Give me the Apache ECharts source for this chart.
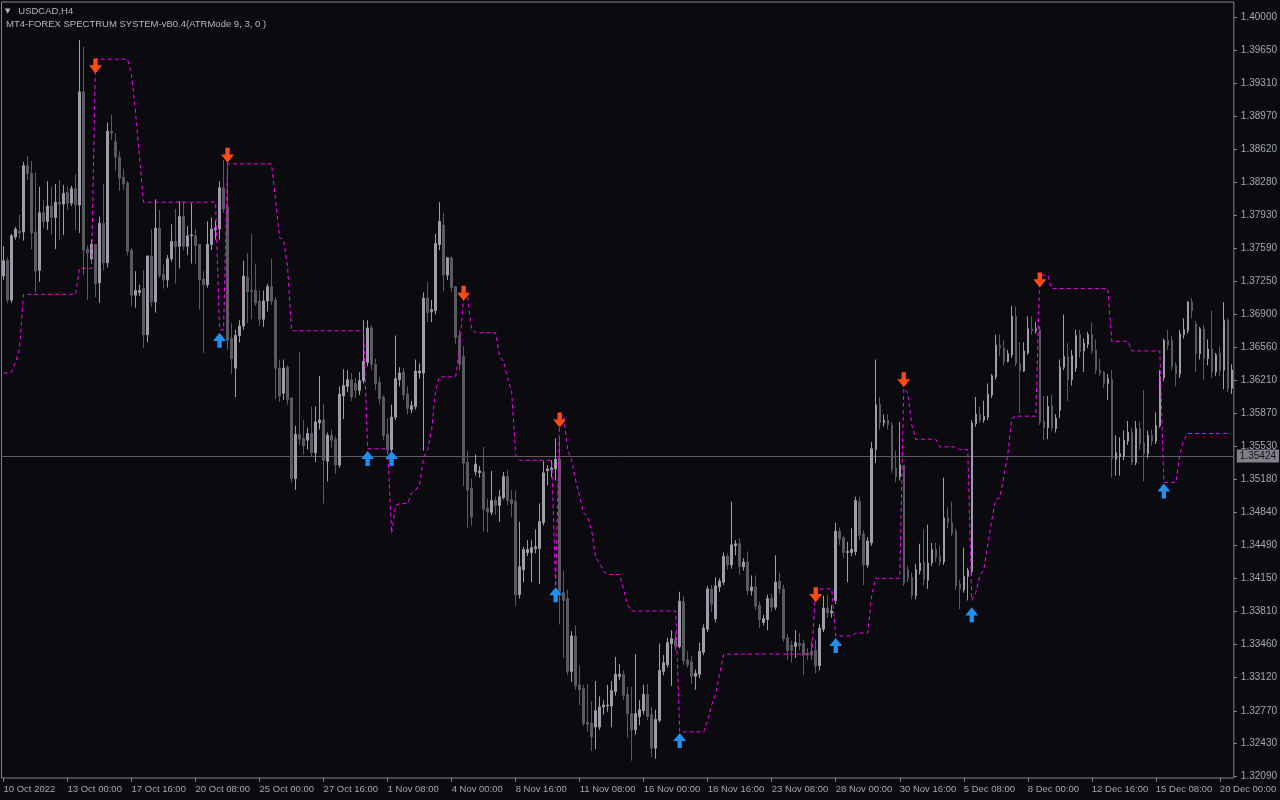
<!DOCTYPE html>
<html>
<head>
<meta charset="utf-8">
<script src="https://cdn.jsdelivr.net/npm/echarts@6/dist/echarts.min.js"></script>
<style>
html,body{margin:0;padding:0;background:#0a0a0f;}
#chart{width:1280px;height:800px;}
</style>
</head>
<body>
<div id="chart"></div>
<script>
const symbolTitle = 'USDCAD,H4';
const indicatorTitle = 'MT4-FOREX SPECTRUM SYSTEM-vB0.4(ATRMode 9, 3, 0 )';
const bidPrice = 1.35424;

const xTickLabels = ['10 Oct 2022','13 Oct 00:00','17 Oct 16:00','20 Oct 08:00','25 Oct 00:00','27 Oct 16:00','1 Nov 08:00','4 Nov 00:00','8 Nov 16:00','11 Nov 08:00','16 Nov 00:00','18 Nov 16:00','23 Nov 08:00','28 Nov 00:00','30 Nov 16:00','5 Dec 08:00','8 Dec 00:00','12 Dec 16:00','15 Dec 08:00','20 Dec 00:00'];
const yTickValues = [1.40000,1.39650,1.39310,1.38970,1.38620,1.38280,1.37930,1.37590,1.37250,1.36900,1.36560,1.36210,1.35870,1.35530,1.35180,1.34840,1.34490,1.34150,1.33810,1.33460,1.33120,1.32770,1.32430,1.32090];

const open = [1.3730,1.3746,1.3705,1.3771,1.3777,1.3776,1.3845,1.3837,1.3776,1.3736,
1.3796,1.3787,1.3803,1.3791,1.3807,1.3805,1.3817,1.3806,1.3821,1.3804,
1.3922,1.3758,1.3748,1.3763,1.3723,1.3785,1.3744,1.3881,1.3870,1.3854,
1.3833,1.3827,1.3757,1.3710,1.3713,1.3717,1.3669,1.3751,1.3703,1.3780,
1.3732,1.3726,1.3748,1.3766,1.3761,1.3792,1.3761,1.3772,1.3772,1.3763,
1.3727,1.3721,1.3763,1.3778,1.3779,1.3822,1.3802,1.3665,1.3634,1.3668,
1.3678,1.3729,1.3715,1.3715,1.3704,1.3685,1.3704,1.3719,1.3705,1.3634,
1.3608,1.3635,1.3603,1.3519,1.3565,1.3561,1.3559,1.3566,1.3546,1.3577,
1.3580,1.3537,1.3564,1.3560,1.3533,1.3605,1.3615,1.3622,1.3618,1.3611,
1.3621,1.3640,1.3676,1.3638,1.3619,1.3604,1.3565,1.3549,1.3583,1.3622,
1.3630,1.3607,1.3591,1.3594,1.3629,1.3629,1.3707,1.3693,1.3694,1.3763,
1.3783,1.3731,1.3749,1.3719,1.3668,1.3646,1.3536,1.3509,1.3526,1.3525,
1.3526,1.3488,1.3484,1.3496,1.3491,1.3499,1.3521,1.3497,1.3495,1.3398,
1.3424,1.3442,1.3442,1.3446,1.3446,1.3473,1.3527,1.3528,1.3529,1.3539,
1.3400,1.3394,1.3318,1.3355,1.3304,1.3300,1.3265,1.3264,1.3260,1.3260,
1.3281,1.3282,1.3282,1.3297,1.3313,1.3315,1.3294,1.3274,1.3257,1.3271,
1.3277,1.3294,1.3273,1.3238,1.3267,1.3318,1.3325,1.3347,1.3352,1.3344,
1.3391,1.3330,1.3328,1.3313,1.3315,1.3338,1.3362,1.3404,1.3373,1.3406,
1.3411,1.3438,1.3429,1.3449,1.3451,1.3427,1.3432,1.3402,1.3406,1.3387,
1.3369,1.3372,1.3394,1.3385,1.3412,1.3404,1.3353,1.3345,1.3344,1.3347,
1.3347,1.3337,1.3339,1.3340,1.3324,1.3362,1.3384,1.3379,1.3392,1.3464,
1.3457,1.3442,1.3442,1.3443,1.3495,1.3461,1.3429,1.3452,1.3549,1.3596,
1.3577,1.3580,1.3575,1.3530,1.3521,1.3533,1.3424,1.3416,1.3397,1.3423,
1.3432,1.3413,1.3431,1.3445,1.3438,1.3432,1.3478,1.3473,1.3464,1.3409,
1.3403,1.3417,1.3422,1.3576,1.3586,1.3580,1.3583,1.3606,1.3625,1.3658,
1.3655,1.3641,1.3648,1.3688,1.3639,1.3631,1.3650,1.3675,1.3673,1.3674,
1.3579,1.3572,1.3595,1.3571,1.3590,1.3635,1.3646,1.3622,1.3634,1.3669,
1.3652,1.3659,1.3669,1.3653,1.3632,1.3630,1.3618,1.3622,1.3539,1.3542,
1.3542,1.3558,1.3567,1.3536,1.3571,1.3556,1.3545,1.3564,1.3558,1.3574,
1.3624,1.3663,1.3663,1.3637,1.3628,1.3669,1.3673,1.3703,1.3680,1.3649,
1.3675,1.3644,1.3654,1.3630,1.3650,1.3632,1.3684,1.3613];

const close = [1.3746,1.3705,1.3772,1.3779,1.3775,1.3845,1.3837,1.3775,1.3735,1.3796,
1.3787,1.3803,1.3791,1.3807,1.3805,1.3816,1.3806,1.3821,1.3804,1.3922,
1.3757,1.3754,1.3763,1.3722,1.3785,1.3744,1.3881,1.3879,1.3854,1.3832,
1.3826,1.3756,1.3710,1.3715,1.3715,1.3669,1.3751,1.3703,1.3780,1.3731,
1.3726,1.3748,1.3766,1.3761,1.3792,1.3761,1.3772,1.3773,1.3762,1.3726,
1.3721,1.3763,1.3779,1.3780,1.3822,1.3800,1.3663,1.3644,1.3668,1.3678,
1.3730,1.3714,1.3714,1.3702,1.3685,1.3704,1.3719,1.3704,1.3634,1.3605,
1.3634,1.3601,1.3519,1.3565,1.3560,1.3553,1.3566,1.3546,1.3578,1.3580,
1.3538,1.3564,1.3559,1.3533,1.3607,1.3616,1.3622,1.3604,1.3611,1.3621,
1.3641,1.3676,1.3638,1.3618,1.3602,1.3564,1.3549,1.3583,1.3623,1.3629,
1.3606,1.3592,1.3595,1.3631,1.3631,1.3707,1.3692,1.3695,1.3764,1.3787,
1.3731,1.3749,1.3718,1.3666,1.3638,1.3535,1.3507,1.3479,1.3534,1.3527,
1.3487,1.3484,1.3496,1.3491,1.3500,1.3521,1.3496,1.3493,1.3398,1.3427,
1.3445,1.3445,1.3447,1.3448,1.3474,1.3525,1.3529,1.3530,1.3539,1.3401,
1.3392,1.3318,1.3355,1.3303,1.3299,1.3264,1.3263,1.3250,1.3277,1.3281,
1.3283,1.3283,1.3298,1.3315,1.3315,1.3293,1.3274,1.3257,1.3274,1.3278,
1.3294,1.3271,1.3238,1.3268,1.3319,1.3327,1.3348,1.3352,1.3345,1.3391,
1.3329,1.3325,1.3313,1.3316,1.3339,1.3363,1.3404,1.3388,1.3407,1.3412,
1.3438,1.3429,1.3450,1.3451,1.3427,1.3432,1.3402,1.3406,1.3386,1.3372,
1.3373,1.3394,1.3385,1.3411,1.3404,1.3352,1.3340,1.3340,1.3348,1.3345,
1.3335,1.3335,1.3335,1.3324,1.3363,1.3384,1.3379,1.3381,1.3464,1.3456,
1.3442,1.3443,1.3445,1.3496,1.3460,1.3429,1.3454,1.3550,1.3596,1.3577,
1.3580,1.3575,1.3528,1.3521,1.3533,1.3410,1.3415,1.3397,1.3424,1.3431,
1.3414,1.3431,1.3445,1.3437,1.3432,1.3478,1.3473,1.3462,1.3407,1.3404,
1.3417,1.3423,1.3577,1.3586,1.3580,1.3584,1.3607,1.3626,1.3658,1.3655,
1.3641,1.3649,1.3688,1.3639,1.3631,1.3652,1.3675,1.3673,1.3675,1.3578,
1.3572,1.3594,1.3572,1.3582,1.3635,1.3646,1.3622,1.3647,1.3668,1.3651,
1.3660,1.3669,1.3652,1.3632,1.3629,1.3618,1.3623,1.3540,1.3546,1.3545,
1.3559,1.3567,1.3536,1.3571,1.3555,1.3545,1.3564,1.3558,1.3574,1.3625,
1.3663,1.3658,1.3636,1.3628,1.3670,1.3674,1.3703,1.3694,1.3649,1.3675,
1.3644,1.3654,1.3630,1.3648,1.3632,1.3684,1.3613,1.3632];

const high = [1.3761,1.3749,1.3774,1.3781,1.3794,1.3849,1.3855,1.3850,1.3838,1.3823,
1.3809,1.3829,1.3823,1.3826,1.3830,1.3825,1.3823,1.3824,1.3836,1.3976,
1.3969,1.3762,1.3768,1.3763,1.3792,1.3826,1.3890,1.3898,1.3879,1.3860,
1.3842,1.3829,1.3759,1.3735,1.3721,1.3736,1.3751,1.3779,1.3810,1.3799,
1.3742,1.3752,1.3784,1.3800,1.3808,1.3808,1.3782,1.3806,1.3779,1.3763,
1.3735,1.3787,1.3791,1.3788,1.3829,1.3851,1.3851,1.3681,1.3674,1.3684,
1.3746,1.3754,1.3774,1.3743,1.3715,1.3715,1.3722,1.3748,1.3708,1.3643,
1.3643,1.3637,1.3603,1.3574,1.3651,1.3580,1.3572,1.3594,1.3594,1.3626,
1.3597,1.3567,1.3570,1.3563,1.3615,1.3633,1.3632,1.3629,1.3624,1.3630,
1.3684,1.3684,1.3679,1.3644,1.3625,1.3606,1.3582,1.3596,1.3668,1.3635,
1.3634,1.3615,1.3600,1.3643,1.3639,1.3713,1.3724,1.3705,1.3774,1.3807,
1.3796,1.3750,1.3750,1.3719,1.3674,1.3657,1.3548,1.3519,1.3544,1.3532,
1.3552,1.3498,1.3527,1.3500,1.3507,1.3526,1.3528,1.3507,1.3507,1.3474,
1.3448,1.3455,1.3455,1.3466,1.3493,1.3537,1.3533,1.3538,1.3561,1.3561,
1.3423,1.3403,1.3360,1.3366,1.3324,1.3304,1.3305,1.3287,1.3308,1.3292,
1.3288,1.3304,1.3308,1.3333,1.3326,1.3319,1.3302,1.3302,1.3336,1.3288,
1.3304,1.3305,1.3281,1.3278,1.3347,1.3335,1.3353,1.3361,1.3358,1.3401,
1.3397,1.3339,1.3334,1.3320,1.3348,1.3367,1.3407,1.3408,1.3416,1.3415,
1.3442,1.3441,1.3495,1.3455,1.3457,1.3436,1.3443,1.3418,1.3418,1.3391,
1.3377,1.3398,1.3399,1.3439,1.3421,1.3408,1.3357,1.3350,1.3361,1.3358,
1.3351,1.3342,1.3349,1.3351,1.3367,1.3397,1.3398,1.3387,1.3473,1.3468,
1.3459,1.3453,1.3467,1.3500,1.3500,1.3465,1.3458,1.3557,1.3643,1.3604,
1.3586,1.3586,1.3578,1.3548,1.3578,1.3533,1.3428,1.3421,1.3430,1.3451,
1.3466,1.3471,1.3452,1.3452,1.3449,1.3520,1.3489,1.3495,1.3467,1.3413,
1.3447,1.3426,1.3580,1.3604,1.3594,1.3600,1.3618,1.3628,1.3669,1.3669,
1.3663,1.3653,1.3699,1.3698,1.3661,1.3661,1.3688,1.3688,1.3682,1.3678,
1.3605,1.3605,1.3606,1.3586,1.3643,1.3690,1.3660,1.3653,1.3674,1.3674,
1.3665,1.3672,1.3682,1.3664,1.3644,1.3631,1.3628,1.3632,1.3564,1.3562,
1.3569,1.3579,1.3572,1.3579,1.3578,1.3611,1.3569,1.3570,1.3588,1.3632,
1.3665,1.3674,1.3668,1.3640,1.3674,1.3686,1.3704,1.3707,1.3683,1.3677,
1.3679,1.3664,1.3694,1.3650,1.3657,1.3703,1.3686,1.3638];

const low = [1.3726,1.3702,1.3702,1.3768,1.3769,1.3767,1.3830,1.3758,1.3713,1.3724,
1.3780,1.3778,1.3773,1.3758,1.3768,1.3773,1.3799,1.3803,1.3778,1.3775,
1.3731,1.3705,1.3745,1.3708,1.3702,1.3736,1.3739,1.3872,1.3840,1.3819,
1.3820,1.3752,1.3699,1.3697,1.3709,1.3655,1.3661,1.3698,1.3692,1.3728,
1.3717,1.3718,1.3745,1.3722,1.3738,1.3757,1.3752,1.3743,1.3743,1.3695,
1.3650,1.3718,1.3757,1.3768,1.3768,1.3796,1.3653,1.3628,1.3604,1.3661,
1.3674,1.3681,1.3685,1.3699,1.3678,1.3677,1.3693,1.3700,1.3602,1.3599,
1.3601,1.3596,1.3515,1.3507,1.3554,1.3544,1.3549,1.3542,1.3536,1.3570,
1.3493,1.3516,1.3551,1.3524,1.3530,1.3581,1.3609,1.3600,1.3603,1.3606,
1.3618,1.3636,1.3632,1.3611,1.3596,1.3559,1.3544,1.3546,1.3580,1.3615,
1.3601,1.3586,1.3587,1.3591,1.3623,1.3548,1.3682,1.3682,1.3690,1.3757,
1.3714,1.3726,1.3713,1.3659,1.3632,1.3511,1.3467,1.3470,1.3522,1.3520,
1.3464,1.3463,1.3481,1.3481,1.3474,1.3497,1.3491,1.3479,1.3386,1.3394,
1.3411,1.3438,1.3411,1.3441,1.3409,1.3470,1.3512,1.3520,1.3517,1.3367,
1.3332,1.3314,1.3307,1.3299,1.3283,1.3261,1.3255,1.3235,1.3237,1.3257,
1.3273,1.3276,1.3260,1.3293,1.3309,1.3288,1.3249,1.3225,1.3252,1.3262,
1.3273,1.3267,1.3229,1.3227,1.3265,1.3314,1.3322,1.3303,1.3340,1.3342,
1.3325,1.3322,1.3305,1.3299,1.3311,1.3335,1.3359,1.3380,1.3369,1.3401,
1.3408,1.3424,1.3425,1.3439,1.3419,1.3423,1.3398,1.3397,1.3382,1.3363,
1.3366,1.3361,1.3380,1.3382,1.3399,1.3349,1.3330,1.3327,1.3332,1.3340,
1.3314,1.3330,1.3330,1.3316,1.3319,1.3359,1.3374,1.3374,1.3388,1.3450,
1.3436,1.3411,1.3438,1.3439,1.3455,1.3408,1.3426,1.3449,1.3535,1.3570,
1.3573,1.3570,1.3525,1.3515,1.3517,1.3407,1.3411,1.3393,1.3393,1.3419,
1.3408,1.3404,1.3428,1.3432,1.3428,1.3429,1.3467,1.3459,1.3403,1.3383,
1.3400,1.3392,1.3418,1.3573,1.3577,1.3577,1.3580,1.3603,1.3622,1.3647,
1.3637,1.3640,1.3645,1.3636,1.3587,1.3630,1.3648,1.3669,1.3670,1.3575,
1.3559,1.3560,1.3569,1.3567,1.3582,1.3632,1.3600,1.3616,1.3630,1.3645,
1.3630,1.3655,1.3649,1.3628,1.3626,1.3613,1.3601,1.3520,1.3522,1.3522,
1.3538,1.3554,1.3533,1.3533,1.3549,1.3516,1.3540,1.3553,1.3555,1.3572,
1.3621,1.3653,1.3632,1.3615,1.3624,1.3665,1.3670,1.3686,1.3630,1.3643,
1.3622,1.3637,1.3624,1.3626,1.3626,1.3612,1.3609,1.3607];

const atrStop = [1.3629,1.3629,1.3630,1.3640,1.3654,1.3711,1.3711,1.3711,1.3711,1.3711,
1.3711,1.3711,1.3711,1.3711,1.3711,1.3711,1.3711,1.3711,1.3711,1.3738,
1.3738,1.3738,1.3738,1.3956,1.3956,1.3956,1.3956,1.3956,1.3956,1.3956,
1.3956,1.3956,1.3940,1.3901,1.3853,1.3807,1.3807,1.3807,1.3807,1.3807,
1.3807,1.3807,1.3807,1.3807,1.3807,1.3807,1.3807,1.3807,1.3807,1.3807,
1.3807,1.3807,1.3807,1.3807,1.3674,1.3674,1.3847,1.3847,1.3847,1.3847,
1.3847,1.3847,1.3847,1.3847,1.3847,1.3847,1.3847,1.3847,1.3809,1.3770,
1.3768,1.3739,1.3673,1.3673,1.3673,1.3673,1.3673,1.3673,1.3673,1.3673,
1.3673,1.3673,1.3673,1.3673,1.3673,1.3673,1.3673,1.3673,1.3673,1.3673,
1.3673,1.3550,1.3550,1.3550,1.3550,1.3550,1.3550,1.3462,1.3491,1.3493,
1.3493,1.3493,1.3504,1.3507,1.3513,1.3541,1.3549,1.3570,1.3611,1.3625,
1.3625,1.3625,1.3625,1.3625,1.3653,1.3708,1.3708,1.3674,1.3671,1.3671,
1.3671,1.3671,1.3671,1.3671,1.3646,1.3641,1.3624,1.3609,1.3544,1.3538,
1.3538,1.3538,1.3538,1.3538,1.3538,1.3538,1.3538,1.3538,1.3406,1.3583,
1.3585,1.3549,1.3538,1.3517,1.3500,1.3483,1.3479,1.3465,1.3437,1.3431,
1.3422,1.3419,1.3419,1.3419,1.3419,1.3403,1.3387,1.3381,1.3381,1.3381,
1.3381,1.3381,1.3381,1.3381,1.3381,1.3381,1.3381,1.3381,1.3381,1.3255,
1.3255,1.3255,1.3255,1.3255,1.3255,1.3255,1.3267,1.3283,1.3295,1.3316,
1.3336,1.3336,1.3336,1.3336,1.3336,1.3336,1.3336,1.3336,1.3336,1.3336,
1.3336,1.3336,1.3336,1.3336,1.3336,1.3336,1.3336,1.3336,1.3336,1.3336,
1.3336,1.3336,1.3336,1.3404,1.3404,1.3404,1.3404,1.3404,1.3355,1.3355,
1.3355,1.3355,1.3355,1.3358,1.3358,1.3358,1.3358,1.3398,1.3415,1.3415,
1.3415,1.3415,1.3415,1.3415,1.3415,1.3613,1.3608,1.3575,1.3560,1.3560,
1.3560,1.3560,1.3560,1.3560,1.3552,1.3552,1.3552,1.3552,1.3552,1.3549,
1.3549,1.3549,1.3392,1.3400,1.3418,1.3424,1.3450,1.3476,1.3497,1.3499,
1.3521,1.3544,1.3582,1.3584,1.3584,1.3584,1.3584,1.3584,1.3584,1.3731,
1.3731,1.3731,1.3717,1.3717,1.3717,1.3717,1.3717,1.3717,1.3717,1.3717,
1.3717,1.3717,1.3717,1.3717,1.3717,1.3717,1.3717,1.3662,1.3662,1.3662,
1.3662,1.3662,1.3652,1.3652,1.3652,1.3652,1.3652,1.3652,1.3652,1.3652,
1.3515,1.3515,1.3515,1.3515,1.3544,1.3559,1.3566,1.3566,1.3566,1.3566,
1.3566,1.3566,1.3566,1.3566,1.3566,1.3566,1.3566,'-'];

const sellArrowBars = [23,56,115,139,203,225,259];
const sellArrowPrices = [1.3949,1.3856,1.3712,1.3580,1.3398,1.3622,1.3726];
const buyArrowBars = [54,91,97,138,169,208,242,290];
const buyArrowPrices = [1.3663,1.3540,1.3540,1.3398,1.3246,1.3345,1.3377,1.3506];

const barCategories = open.map((_, i) => String(i));
const candleData = open.map((o, i) => [o, close[i], low[i], high[i]]);

const chart = echarts.init(document.getElementById('chart'), null, {renderer: 'canvas'});
const FONT = 'Liberation Sans';
const labelColor = '#a2a8b4';
const frameColor = '#84848c';

chart.setOption({
  backgroundColor: '#0a0a0f',
  animation: false,
  title: [
    {
      text: '{tri|▼}   ' + symbolTitle,
      left: 5, top: 6, padding: 0,
      textStyle: {
        color: '#b8b8bc', fontSize: 9.5, fontWeight: 'normal', fontFamily: FONT,
        rich: { tri: { fontSize: 7, color: '#b8b8bc', fontFamily: 'DejaVu Sans' } }
      }
    },
    {
      text: indicatorTitle,
      left: 6, top: 19, padding: 0,
      textStyle: { color: '#b8b8bc', fontSize: 9.5, fontWeight: 'normal', fontFamily: FONT }
    }
  ],
  grid: {
    left: 1.5, right: 46, top: 2, bottom: 22,
    show: true, borderColor: frameColor, borderWidth: 1, backgroundColor: 'transparent'
  },
  xAxis: {
    type: 'category',
    data: barCategories,
    boundaryGap: true,
    axisLine: { show: false },
    axisTick: { show: true, alignWithLabel: true, interval: 15, length: 4, lineStyle: { color: frameColor } },
    axisLabel: {
      interval: 15, align: 'left', margin: 6,
      color: labelColor, fontSize: 9.5, fontFamily: FONT,
      formatter: (v, idx) => xTickLabels[Math.round(idx / 16)] || ''
    },
    splitLine: { show: false }
  },
  yAxis: {
    type: 'value',
    position: 'right',
    min: 1.320692,
    max: 1.401563,
    scale: true,
    axisLine: { show: false },
    axisTick: { show: true, length: 3, lineStyle: { color: frameColor }, customValues: yTickValues },
    axisLabel: {
      color: labelColor, fontSize: 10, fontFamily: FONT, margin: 7,
      customValues: yTickValues,
      formatter: v => v.toFixed(5)
    },
    splitLine: { show: false }
  },
  series: [
    {
      type: 'candlestick',
      data: candleData,
      barWidth: 2,
      itemStyle: {
        color: '#9d9da9', color0: '#5a5a60',
        borderColor: '#9d9da9', borderColor0: '#5a5a60',
        borderWidth: 1
      },
      z: 2
    },
    {
      type: 'line',
      data: atrStop,
      symbol: 'none',
      connectNulls: false,
      lineStyle: { color: '#ff00ff', width: 1, type: [4, 3] },
      markLine: {
        silent: true,
        precision: 5,
        symbol: ['none', 'none'],
        data: [{ yAxis: bidPrice }],
        lineStyle: { color: '#5c5c64', type: 'solid', width: 1 },
        label: {
          position: 'end', distance: 3,
          formatter: bidPrice.toFixed(5),
          backgroundColor: '#80808a', color: '#101014',
          fontSize: 10, fontFamily: FONT, padding: [2, 3, 1, 3]
        },
        z: 1
      },
      z: 3
    },
    {
      type: 'scatter',
      data: sellArrowBars.map((b, i) => [b, sellArrowPrices[i]]),
      symbol: 'path://M4,0 L8,0 L8,6 L12,6 L6,13 L0,6 L4,6 Z',
      symbolSize: [13, 15],
      itemStyle: { color: '#ff4a12', opacity: 1 },
      z: 4
    },
    {
      type: 'scatter',
      data: buyArrowBars.map((b, i) => [b, buyArrowPrices[i]]),
      symbol: 'path://M6,0 L12,7 L8,7 L8,13 L4,13 L4,7 L0,7 Z',
      symbolSize: [13, 15],
      itemStyle: { color: '#2090f0', opacity: 1 },
      z: 4
    }
  ]
});
</script>
</body>
</html>
